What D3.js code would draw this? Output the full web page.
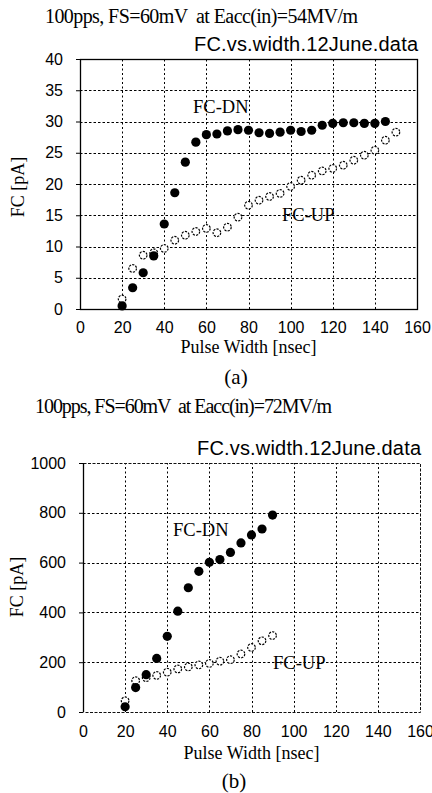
<!DOCTYPE html>
<html>
<head>
<meta charset="utf-8">
<script src="https://cdn.jsdelivr.net/npm/d3@7"></script>
<style>
  body { margin: 0; background: #fff; }
  svg { display: block; }
  .serif { font-family: "Liberation Serif", "Times New Roman", serif; }
  .sans { font-family: "Liberation Sans", Arial, sans-serif; }
</style>
</head>
<body>
<svg width="432" height="793"></svg>
<script>
// ---- data ----
const xTicks = [0, 20, 40, 60, 80, 100, 120, 140, 160];

// (a) Eacc = 54 MV/m
const yTicksA = [0, 5, 10, 15, 20, 25, 30, 35, 40];
const widthDnA = [20, 25, 30, 35, 40, 45, 50, 55, 60, 65, 70, 75, 80, 85, 90, 95, 100, 105, 110, 115, 120, 125, 130, 135, 140, 145];
const fcDnA = [0.5, 3.4, 5.8, 8.5, 13.6, 18.6, 23.5, 26.7, 27.9, 28.0, 28.5, 28.7, 28.6, 28.2, 28.1, 28.3, 28.6, 28.4, 28.6, 29.4, 29.7, 29.8, 29.8, 29.7, 29.7, 30.0];
const widthUpA = [20, 25, 30, 35, 40, 45, 50, 55, 60, 65, 70, 75, 80, 85, 90, 95, 100, 105, 110, 115, 120, 125, 130, 135, 140, 145, 150];
const fcUpA = [1.6, 6.5, 8.6, 9.0, 9.7, 11.0, 11.8, 12.4, 12.9, 12.2, 13.1, 14.7, 16.6, 17.4, 18.0, 18.5, 19.6, 20.6, 21.4, 22.1, 22.5, 23.0, 23.8, 24.6, 25.4, 27.0, 28.3];

// (b) Eacc = 72 MV/m
const yTicksB = [0, 200, 400, 600, 800, 1000];
const widthB = [20, 25, 30, 35, 40, 45, 50, 55, 60, 65, 70, 75, 80, 85, 90];
const fcDnB = [21, 98, 150, 215, 304, 405, 499, 565, 601, 612, 641, 679, 711, 735, 791];
const fcUpB = [45, 126, 138, 147, 160, 173, 181, 189, 195, 204, 210, 233, 259, 286, 307];

const svg = d3.select("svg");

function drawPanel(p) {
  const x = d3.scaleLinear().domain([0, 160]).range(p.xRange);
  const y = d3.scaleLinear().domain([0, p.yMax]).range(p.yRange);
  const g = svg.append("g");
  const [x0, x1] = p.xRange, [y0, y1] = p.yRange;

  // titles
  g.append("text").attr("class", "serif")
    .attr("x", p.titleX).attr("y", p.titleY)
    .attr("textLength", p.titleW).attr("lengthAdjust", "spacing")
    .style("font-size", "20px").style("white-space", "pre")
    .text(p.title);
  g.append("text").attr("class", "sans")
    .attr("x", x1 + 1).attr("y", y1 - 8)
    .attr("text-anchor", "end")
    .attr("textLength", 224).attr("lengthAdjust", "spacing")
    .style("font-size", "20px")
    .text("FC.vs.width.12June.data");

  // dotted grid
  g.append("g").selectAll("line")
    .data(xTicks.slice(1, -1))
    .join("line")
    .attr("x1", d => Math.round(x(d)) + 0.5).attr("x2", d => Math.round(x(d)) + 0.5)
    .attr("y1", y0).attr("y2", y1)
    .attr("stroke", "#000").attr("stroke-width", 1)
    .attr("stroke-dasharray", "2,2.5");
  g.append("g").selectAll("line")
    .data(p.yTicks.slice(1, -1))
    .join("line")
    .attr("x1", x0).attr("x2", x1)
    .attr("y1", d => Math.round(y(d)) + 0.5).attr("y2", d => Math.round(y(d)) + 0.5)
    .attr("stroke", "#000").attr("stroke-width", 1)
    .attr("stroke-dasharray", "2.5,2");

  // frame
  if (p.solidFrame) {
    g.append("rect")
      .attr("x", x0 + 0.5).attr("y", y1 + 0.5)
      .attr("width", x1 - x0).attr("height", y0 - y1)
      .attr("fill", "none").attr("stroke", "#000").attr("stroke-width", 1.3);
  } else {
    g.append("path")
      .attr("d", `M${x0 + 0.5},${y1 + 0.5}H${x1 + 0.5}V${y0 + 0.5}H${x0 + 0.5}`)
      .attr("fill", "none").attr("stroke", "#111").attr("stroke-width", 1)
      .attr("stroke-dasharray", "3,1.5");
    g.append("line")
      .attr("x1", x0 + 0.5).attr("x2", x0 + 0.5).attr("y1", y0).attr("y2", y1)
      .attr("stroke", "#000").attr("stroke-width", 1.3);
  }

  // axes
  const xAxis = g.append("g")
    .attr("transform", `translate(0,${y0})`)
    .call(d3.axisBottom(x).tickValues(xTicks).tickSize(0).tickPadding(p.xPad));
  const yAxis = g.append("g")
    .attr("transform", `translate(${x0},0)`)
    .call(d3.axisLeft(y).tickValues(p.yTicks).tickFormat(d3.format("d")).tickSize(4).tickPadding(13));
  [xAxis, yAxis].forEach(a => {
    a.select(".domain").remove();
    a.selectAll("line").attr("stroke", "#000");
    a.selectAll("text").attr("class", "sans")
      .style("font-size", "16px").attr("fill", "#000");
  });

  // axis labels
  g.append("text").attr("class", "serif")
    .attr("x", (x0 + x1) / 2).attr("y", y0 + p.xLabelDy)
    .attr("text-anchor", "middle")
    .style("font-size", "18px")
    .text("Pulse Width [nsec]");
  g.append("text").attr("class", "serif")
    .attr("transform", `translate(${p.yLabelX},${p.yLabelY}) rotate(-90)`)
    .attr("text-anchor", "middle")
    .style("font-size", "18px")
    .text("FC [pA]");
  g.append("text").attr("class", "serif")
    .attr("x", p.tagX).attr("y", p.tagY)
    .attr("text-anchor", "middle")
    .style("font-size", "21px")
    .text(p.tag);

  // FC-UP: open circles
  g.append("g").selectAll("circle")
    .data(p.upX.map((d, i) => [d, p.upY[i]]))
    .join("circle")
    .attr("cx", d => x(d[0])).attr("cy", d => y(d[1]))
    .attr("r", 3.8)
    .attr("fill", "#fff").attr("stroke", "#000").attr("stroke-width", 1.2)
    .attr("stroke-dasharray", "2.2,1.2");

  // FC-DN: filled circles
  g.append("g").selectAll("circle")
    .data(p.dnX.map((d, i) => [d, p.dnY[i]]))
    .join("circle")
    .attr("cx", d => x(d[0])).attr("cy", d => y(d[1]))
    .attr("r", 4.6)
    .attr("fill", "#000");

  // series labels
  g.append("text").attr("class", "serif")
    .attr("x", p.dnLabel[0]).attr("y", p.dnLabel[1])
    .style("font-size", "18.5px").text("FC-DN");
  g.append("text").attr("class", "serif")
    .attr("x", p.upLabel[0]).attr("y", p.upLabel[1])
    .style("font-size", "18.5px").text("FC-UP");
}

drawPanel({
  title: "100pps, FS=60mV  at Eacc(in)=54MV/m",
  titleX: 45, titleY: 23, titleW: 313,
  xRange: [80, 417], yRange: [309, 59],
  yMax: 40, yTicks: yTicksA, solidFrame: true, xPad: 13, xLabelDy: 44,
  yLabelX: 24, yLabelY: 187,
  tag: "(a)", tagX: 236, tagY: 384,
  dnX: widthDnA, dnY: fcDnA, upX: widthUpA, upY: fcUpA,
  dnLabel: [193, 113], upLabel: [282, 221]
});

drawPanel({
  title: "100pps, FS=60mV  at Eacc(in)=72MV/m",
  titleX: 35, titleY: 413, titleW: 297,
  xRange: [83, 420], yRange: [712, 463],
  yMax: 1000, yTicks: yTicksB, solidFrame: false, xPad: 14, xLabelDy: 47,
  yLabelX: 23, yLabelY: 587,
  tag: "(b)", tagX: 234, tagY: 788,
  dnX: widthB, dnY: fcDnB, upX: widthB, upY: fcUpB,
  dnLabel: [173, 536], upLabel: [273, 669]
});
</script>
</body>
</html>
